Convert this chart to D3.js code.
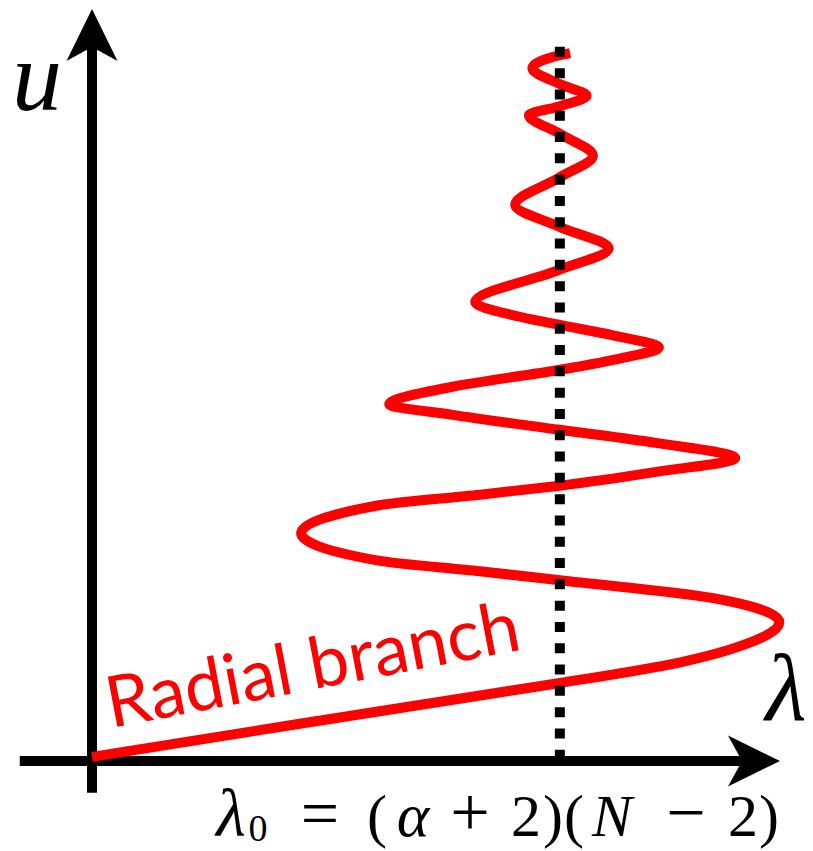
<!DOCTYPE html>
<html>
<head>
<meta charset="utf-8">
<script src="https://cdn.jsdelivr.net/npm/d3@7"></script>
<style>
  html, body { margin: 0; padding: 0; background: #fff; }
  svg { display: block; }
</style>
</head>
<body>
<svg id="chart" width="813" height="851"></svg>
<script>
// Bifurcation sketch: radial branch u(λ) oscillating about λ0 = (α+2)(N−2)

// Branch samples, in order along the curve (λ, u)
const branchLambda = [
  0.00, 3.02, 5.64, 6.80, 8.55, 9.52, 9.99, 9.03, 6.80, 5.64,
  4.19, 3.04, 4.19, 5.64, 6.80, 8.20, 9.35, 8.20, 6.80, 5.22,
  4.32, 5.22, 6.80, 7.70, 8.24, 7.57, 6.80, 6.12, 5.57, 6.80,
  7.51, 6.80, 6.15, 6.80, 7.28, 6.80, 6.35, 6.80, 7.19, 6.80,
  6.40, 6.80, 6.95
];
const branchU = [
  0.06, 0.54, 0.95, 1.13, 1.43, 1.70, 2.01, 2.36, 2.62, 2.75,
  2.90, 3.30, 3.71, 3.86, 3.99, 4.19, 4.39, 4.61, 4.80, 5.02,
  5.17, 5.42, 5.67, 5.84, 5.99, 6.17, 6.32, 6.46, 6.65, 7.12,
  7.43, 7.74, 8.06, 8.46, 8.77, 9.09, 9.36, 9.49, 9.64, 9.81,
  10.04, 10.23, 10.26
];

// Critical value and reference line extent
const lambda0 = 6.80;
const lambda0Span = [0.06, 10.35];

// Axis extents (data units)
const lambdaAxisExtent = [-1.05, 10.0];
const uAxisExtent = [-0.46, 10.9];

// Text
const uLabel = "u";
const lambdaLabel = "λ";
const branchLabel = "Radial branch";

const svg = d3.select("#chart");

const x = d3.scaleLinear().domain([0, 10]).range([92, 780]);
const y = d3.scaleLinear().domain([0, 10]).range([761, 71]);

const RED = "#ff0000";

// Arrow head: tip at origin pointing +x; barbed back edge
const head = [[0, 0], [-52, -25.5], [-38, 0], [-52, 25.5]];
const headPath = "M" + head.map(p => p.join(",")).join("L") + "Z";

// Axes
const axes = svg.append("g").attr("class", "axes");
axes.append("line")
  .attr("x1", x(lambdaAxisExtent[0])).attr("x2", x(lambdaAxisExtent[1]) - 38)
  .attr("y1", y(0)).attr("y2", y(0))
  .attr("stroke", "#000").attr("stroke-width", 10);
axes.append("path")
  .attr("d", headPath)
  .attr("transform", `translate(${x(lambdaAxisExtent[1])},${y(0)})`)
  .attr("fill", "#000");

axes.append("line")
  .attr("x1", x(0)).attr("x2", x(0))
  .attr("y1", y(uAxisExtent[0])).attr("y2", y(uAxisExtent[1]) + 38)
  .attr("stroke", "#000").attr("stroke-width", 10);
axes.append("path")
  .attr("d", headPath)
  .attr("transform", `translate(${x(0)},${y(uAxisExtent[1])}) rotate(-90)`)
  .attr("fill", "#000");

// Branch curve (λ as a function of u)
const pts = branchLambda.map((l, i) => [l, branchU[i]]);
const line = d3.line()
  .x(d => x(d[0]))
  .y(d => y(d[1]))
  .curve(d3.curveMonotoneY);

svg.append("path")
  .attr("d", line(pts))
  .attr("fill", "none")
  .attr("stroke", RED)
  .attr("stroke-width", 10)
  .attr("stroke-linejoin", "round");

// Dotted reference line at λ0
svg.append("line")
  .attr("x1", x(lambda0)).attr("x2", x(lambda0))
  .attr("y1", y(lambda0Span[1])).attr("y2", y(lambda0Span[0]))
  .attr("stroke", "#000")
  .attr("stroke-width", 10)
  .attr("stroke-dasharray", "10 11.3");

// Axis labels
svg.append("text")
  .attr("x", 37).attr("y", 110)
  .attr("text-anchor", "middle")
  .attr("font-family", "'Liberation Serif', 'DejaVu Serif', serif")
  .attr("font-style", "italic")
  .attr("font-size", 100)
  .text(uLabel);

svg.append("text")
  .attr("x", 786).attr("y", 720)
  .attr("text-anchor", "middle")
  .attr("font-family", "'Liberation Serif', 'DejaVu Serif', serif")
  .attr("font-style", "italic")
  .attr("font-size", 95)
  .text(lambdaLabel);

// λ0 = (α + 2)(N − 2)
const formula = [
  { t: "λ", x: 231, it: true, size: 68 },
  { t: "0", x: 258, sub: true, size: 38 },
  { t: "=", x: 320, size: 68 },
  { t: "(", x: 377, size: 60 },
  { t: "α", x: 413, it: true, size: 62 },
  { t: "+", x: 470, size: 70 },
  { t: "2", x: 526, size: 60 },
  { t: ")", x: 553, size: 60 },
  { t: "(", x: 574, size: 60 },
  { t: "N", x: 612, it: true, size: 60 },
  { t: "−", x: 686, size: 70 },
  { t: "2", x: 743, size: 60 },
  { t: ")", x: 769, size: 60 }
];
const ft = svg.append("text")
  .attr("font-family", "'Liberation Serif', 'DejaVu Serif', serif")
  .attr("font-size", 60)
  .attr("text-anchor", "middle");
ft.selectAll("tspan")
  .data(formula)
  .join("tspan")
  .attr("x", d => d.x)
  .attr("y", d => d.sub ? 841 : 836)
  .attr("font-size", d => d.size)
  .attr("font-style", d => d.it ? "italic" : "normal")
  .text(d => d.t);

// Branch label, set along the initial slope
svg.append("text")
  .attr("transform", "translate(111,728) rotate(-10.8)")
  .attr("font-family", "Lato, 'Open Sans', sans-serif")
  .attr("font-size", 71)
  .attr("fill", RED)
  .text(branchLabel);
</script>
</body>
</html>
